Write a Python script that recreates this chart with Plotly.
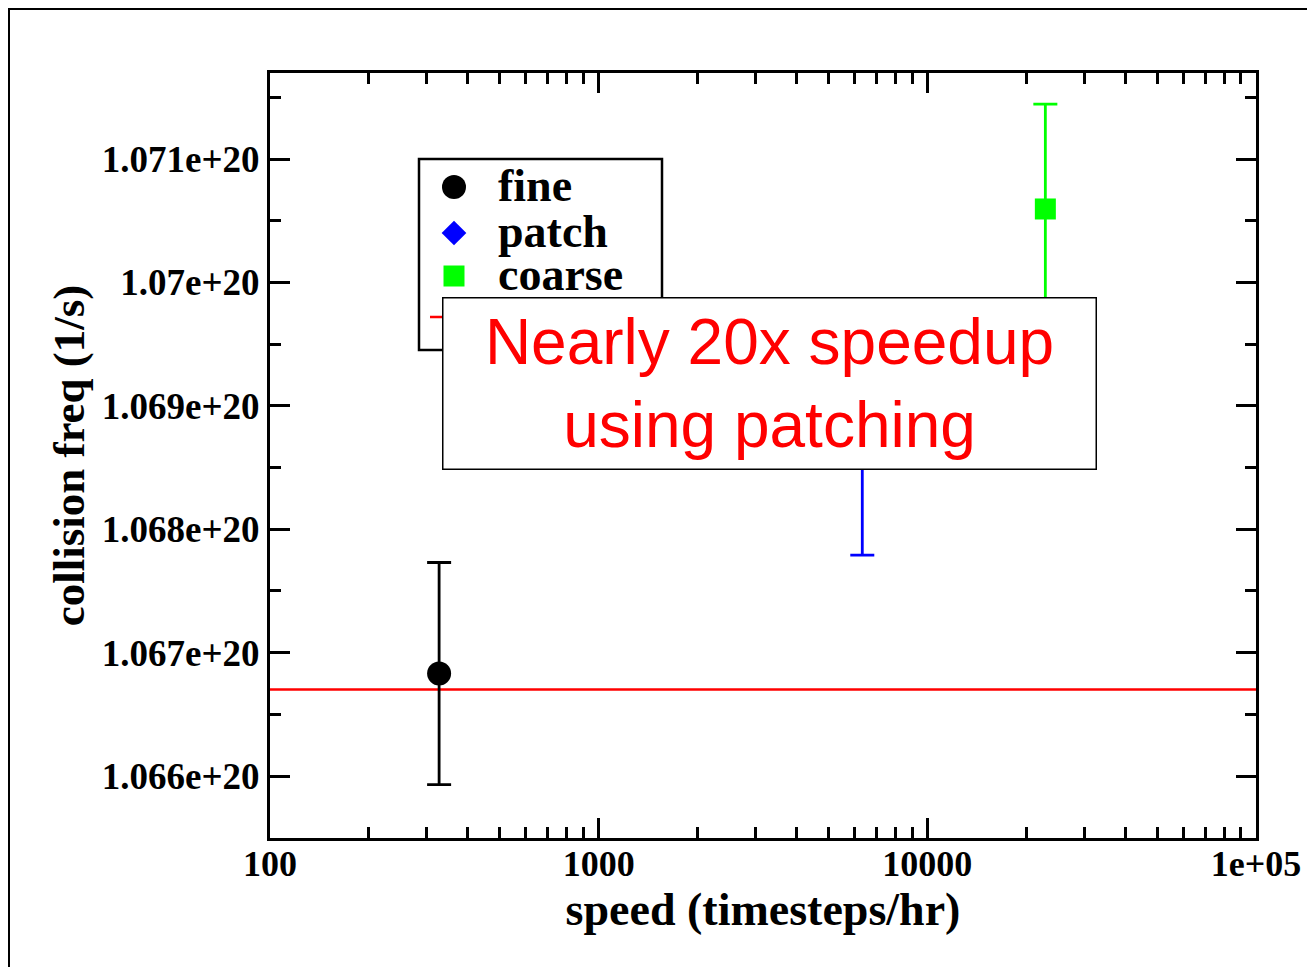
import plotly.graph_objects as go

# ---- data ----
series_names = ["fine", "patch", "coarse"]
speed = [327, 6340, 22860]                       # timesteps/hr
freq = [1.06683e20, 1.0687e20, 1.070595e20]       # collision freq (1/s)
freq_err = [0.00090e20, 0.00091e20, 0.00085e20]
colors = ["#000000", "#0000ff", "#00ff00"]
symbols = ["circle", "diamond", "square"]
marker_sizes = [24, 19, 21]

ref_line_x = [100, 100000]
ref_line_y = [1.0667e20, 1.0667e20]

x_tickvals = [100, 1000, 10000, 100000]
x_ticktext = ["100", "1000", "10000", "1e+05"]
y_tickvals = [1.066e20, 1.067e20, 1.068e20, 1.069e20, 1.070e20, 1.071e20]
y_ticktext = ["1.066e+20", "1.067e+20", "1.068e+20", "1.069e+20", "1.07e+20", "1.071e+20"]

annotation_text = "Nearly 20x speedup<br>using patching"

# ---- layout geometry (pixels, in window coordinates) ----
OFF = 8                      # default page body margin
W, H = 1315 - OFF, 967 - OFF
L, R, T, B = 270, 1256, 73, 838   # plot-area edges in window pixels

def px(x):
    return (x - L) / (R - L)

def py(y):
    return (B - y) / (B - T)

serif = "Liberation Serif, Times New Roman, serif"
sans = "Liberation Sans, Arial, sans-serif"

fig = go.Figure()

# red reference line
fig.add_trace(go.Scatter(x=ref_line_x, y=ref_line_y, mode="lines",
                         line=dict(color="#ff0000", width=2.5), showlegend=False))

for name, xv, yv, ev, c, s, ms in zip(series_names, speed, freq, freq_err, colors, symbols, marker_sizes):
    fig.add_trace(go.Scatter(
        x=[xv], y=[yv], mode="markers", name=name,
        marker=dict(color=c, symbol=s, size=ms, line=dict(width=0)),
        error_y=dict(type="data", array=[ev], color=c, thickness=2.8, width=12),
        showlegend=False))

# manual legend (pixel-coordinate overlay axes)
leg_y = [187, 233, 276]
for name, c, s, ms, ly in zip(series_names, colors, symbols, marker_sizes, leg_y):
    fig.add_trace(go.Scatter(x=[454], y=[ly], xaxis="x2", yaxis="y2", mode="markers",
                             marker=dict(color=c, symbol=s, size=ms, line=dict(width=0)),
                             showlegend=False, hoverinfo="skip"))

shapes = [
    # outer frame
    dict(type="rect", xref="paper", yref="paper", x0=px(9), x1=px(1330), y0=py(9), y1=py(990),
         line=dict(color="black", width=2), fillcolor="rgba(0,0,0,0)", layer="above"),
    # legend box
    dict(type="rect", xref="x2", yref="y2", x0=419, x1=662, y0=159, y1=350,
         line=dict(color="black", width=2.5), fillcolor="white", layer="below"),
    # legend red line sample
    dict(type="line", xref="x2", yref="y2", x0=430, x1=500, y0=317, y1=317,
         line=dict(color="#ff0000", width=2.5), layer="above"),
]

annotations = []
for name, ly in zip(series_names, leg_y):
    annotations.append(dict(xref="x2", yref="y2", x=496, y=ly - 2, text=name, showarrow=False,
                            xanchor="left", yanchor="middle",
                            font=dict(family=serif, size=46, color="black", weight="bold")))
annotations.append(dict(xref="x2", yref="y2", x=769, y=383.5, text=annotation_text, showarrow=False,
                        xanchor="center", yanchor="middle", width=652, height=170,
                        bgcolor="white", bordercolor="black", borderwidth=1.5, borderpad=0,
                        font=dict(family=sans, size=64, color="#ff0000")))

minor_x = [m * 10 ** e for e in (2, 3, 4) for m in range(2, 10)]

fig.update_layout(
    width=W, height=H,
    margin=dict(l=L - OFF, r=W - (R - OFF), t=T - OFF, b=H - (B - OFF), autoexpand=False),
    paper_bgcolor="white", plot_bgcolor="white",
    showlegend=False,
    shapes=shapes, annotations=annotations,
    xaxis=dict(type="log", range=[2, 5], tickmode="array", tickvals=x_tickvals, ticktext=x_ticktext,
               ticks="inside", ticklen=20, tickwidth=2.5, tickcolor="black",
               showline=True, linecolor="black", linewidth=3, mirror="allticks",
               showgrid=False, zeroline=False, ticklabelstandoff=-8,
               minor=dict(tickmode="array", tickvals=minor_x, ticks="inside", ticklen=11,
                          tickwidth=2.5, tickcolor="black", showgrid=False),
               tickfont=dict(family=serif, size=36, color="black", weight="bold"),
               title=dict(text="speed (timesteps/hr)", standoff=0,
                          font=dict(family=serif, size=46, color="black", weight="bold"))),
    yaxis=dict(range=[1.0654976e20, 1.0716969e20], tickmode="array", tickvals=y_tickvals, ticktext=y_ticktext,
               ticks="inside", ticklen=20, tickwidth=2.5, tickcolor="black",
               showline=True, linecolor="black", linewidth=3, mirror="allticks",
               showgrid=False, zeroline=False,
               minor=dict(dtick=0.5e17, ticks="inside", ticklen=11, tickwidth=2.5,
                          tickcolor="black", showgrid=False),
               tickfont=dict(family=serif, size=37, color="black", weight="bold"),
               title=dict(text="collision freq (1/s)", standoff=4,
                          font=dict(family=serif, size=45, color="black", weight="bold"))),
    xaxis2=dict(overlaying="x", anchor="y2", range=[L, R], visible=False, fixedrange=True),
    yaxis2=dict(overlaying="y", anchor="x2", range=[B, T], visible=False, fixedrange=True),
)

fig.write_html("out.html")
